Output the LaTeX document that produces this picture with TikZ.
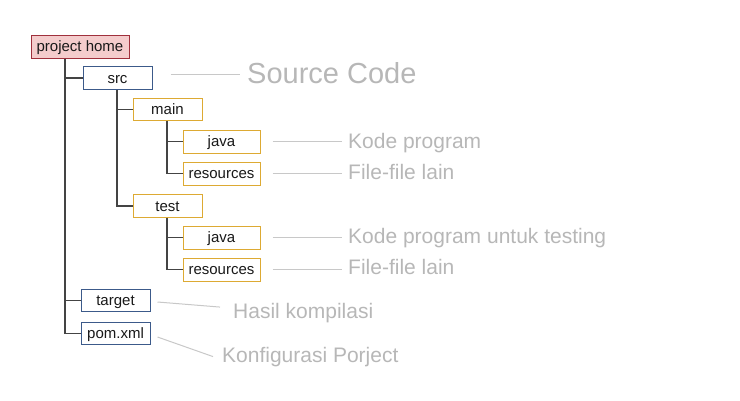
\documentclass[tikz,border=0pt]{standalone}
\usepackage{fontspec}
\usetikzlibrary{calc}
\setmainfont{Liberation Sans}
\definecolor{phfill}{HTML}{F4CCCC}
\definecolor{phdraw}{HTML}{A0303C}
\definecolor{bluedraw}{HTML}{3C5A8A}
\definecolor{golddraw}{HTML}{DDAA33}
\definecolor{treeline}{HTML}{444444}
\definecolor{lblgray}{HTML}{B7B7B7}
\definecolor{lblline}{HTML}{C8C8C8}
\begin{document}
\begin{tikzpicture}[x=1pt,y=-1pt,
  box/.style={draw,line width=1pt,inner sep=0pt,fill=white,text=black!90,
    text height=10.7pt,text depth=0pt,
    font=\fontsize{15}{18}\selectfont},
  phbox/.style={box,fill=phfill,draw=phdraw,minimum width=98pt,minimum height=23pt},
  bbox/.style={box,draw=bluedraw,minimum width=69pt,minimum height=22.5pt},
  gbox/.style={box,draw=golddraw,minimum width=69pt,minimum height=22.5pt},
  gwbox/.style={box,draw=golddraw,minimum width=77pt,minimum height=23pt},
  tree/.style={draw=treeline,line width=1.7pt},
  lbl/.style={anchor=base west,inner sep=0pt,text=lblgray,font=\fontsize{21}{25}\selectfont},
  biglbl/.style={lbl,font=\fontsize{29}{34}\selectfont},
  gl/.style={draw=lblline,line width=1pt}]
\useasboundingbox (0,0) rectangle (740,400);
% boxes
\node[phbox] (ph) at (80,46.5) {project home};
\node[bbox] (src) at (117.5,78) {src};
\node[gbox] (main) at (167.5,109.5) {main};
\node[gwbox] (java1) at (221.5,141.5) {java};
\node[gwbox] (res1) at (221.5,173.5) {resources};
\node[gbox] (test) at (167.5,206) {test};
\node[gwbox] (java2) at (221.5,237.5) {java};
\node[gwbox] (res2) at (221.5,269.5) {resources};
\node[bbox] (target) at (115.5,300.5) {target};
\node[bbox] (pom) at (115.5,333.5) {pom.xml};
% tree connectors
\draw[tree] ([xshift=34.5]ph.south west) |- (src.west);
\draw[tree] ([xshift=34.5]ph.south west) |- (target.west);
\draw[tree] ([xshift=34.5]ph.south west) |- (pom.west);
\draw[tree] ([xshift=34.5]src.south west) |- (main.west);
\draw[tree] ([xshift=34.5]src.south west) |- (test.west);
\draw[tree] ([xshift=34.5]main.south west) |- (java1.west);
\draw[tree] ([xshift=34.5]main.south west) |- (res1.west);
\draw[tree] ([xshift=34.5]test.south west) |- (java2.west);
\draw[tree] ([xshift=34.5]test.south west) |- (res2.west);
% labels
\node[biglbl] (lsrc) at (247,83) {Source Code};
\node[lbl] (ljava1) at (348,148) {Kode program};
\node[lbl] (lres1) at (348,179) {File-file lain};
\node[lbl] (ljava2) at (348,243) {Kode program untuk testing};
\node[lbl] (lres2) at (348,274) {File-file lain};
\node[lbl] (ltarget) at (233,318) {Hasil kompilasi};
\node[lbl] (lpom) at (222,362) {Konfigurasi Porject};
% label lines
\coordinate (csrc) at ([xshift=18,yshift=4]src.east);
\draw[gl] (csrc) -- ($(csrc -| lsrc.west)+(-7,0)$);
\draw[gl] ([xshift=12]java1.east) -- ($(java1.east -| ljava1.west)+(-6,0)$);
\draw[gl] ([xshift=12]res1.east) -- ($(res1.east -| lres1.west)+(-6,0)$);
\draw[gl] ([xshift=12]java2.east) -- ($(java2.east -| ljava2.west)+(-6,0)$);
\draw[gl] ([xshift=12]res2.east) -- ($(res2.east -| lres2.west)+(-6,0)$);
\draw[gl] ([xshift=7,yshift=-1.5]target.east) -- ([xshift=-13,yshift=5.5]ltarget.west);
\draw[gl] ([xshift=7,yshift=-3.5]pom.east) -- ([xshift=-9]lpom.west);
\end{tikzpicture}
\end{document}
